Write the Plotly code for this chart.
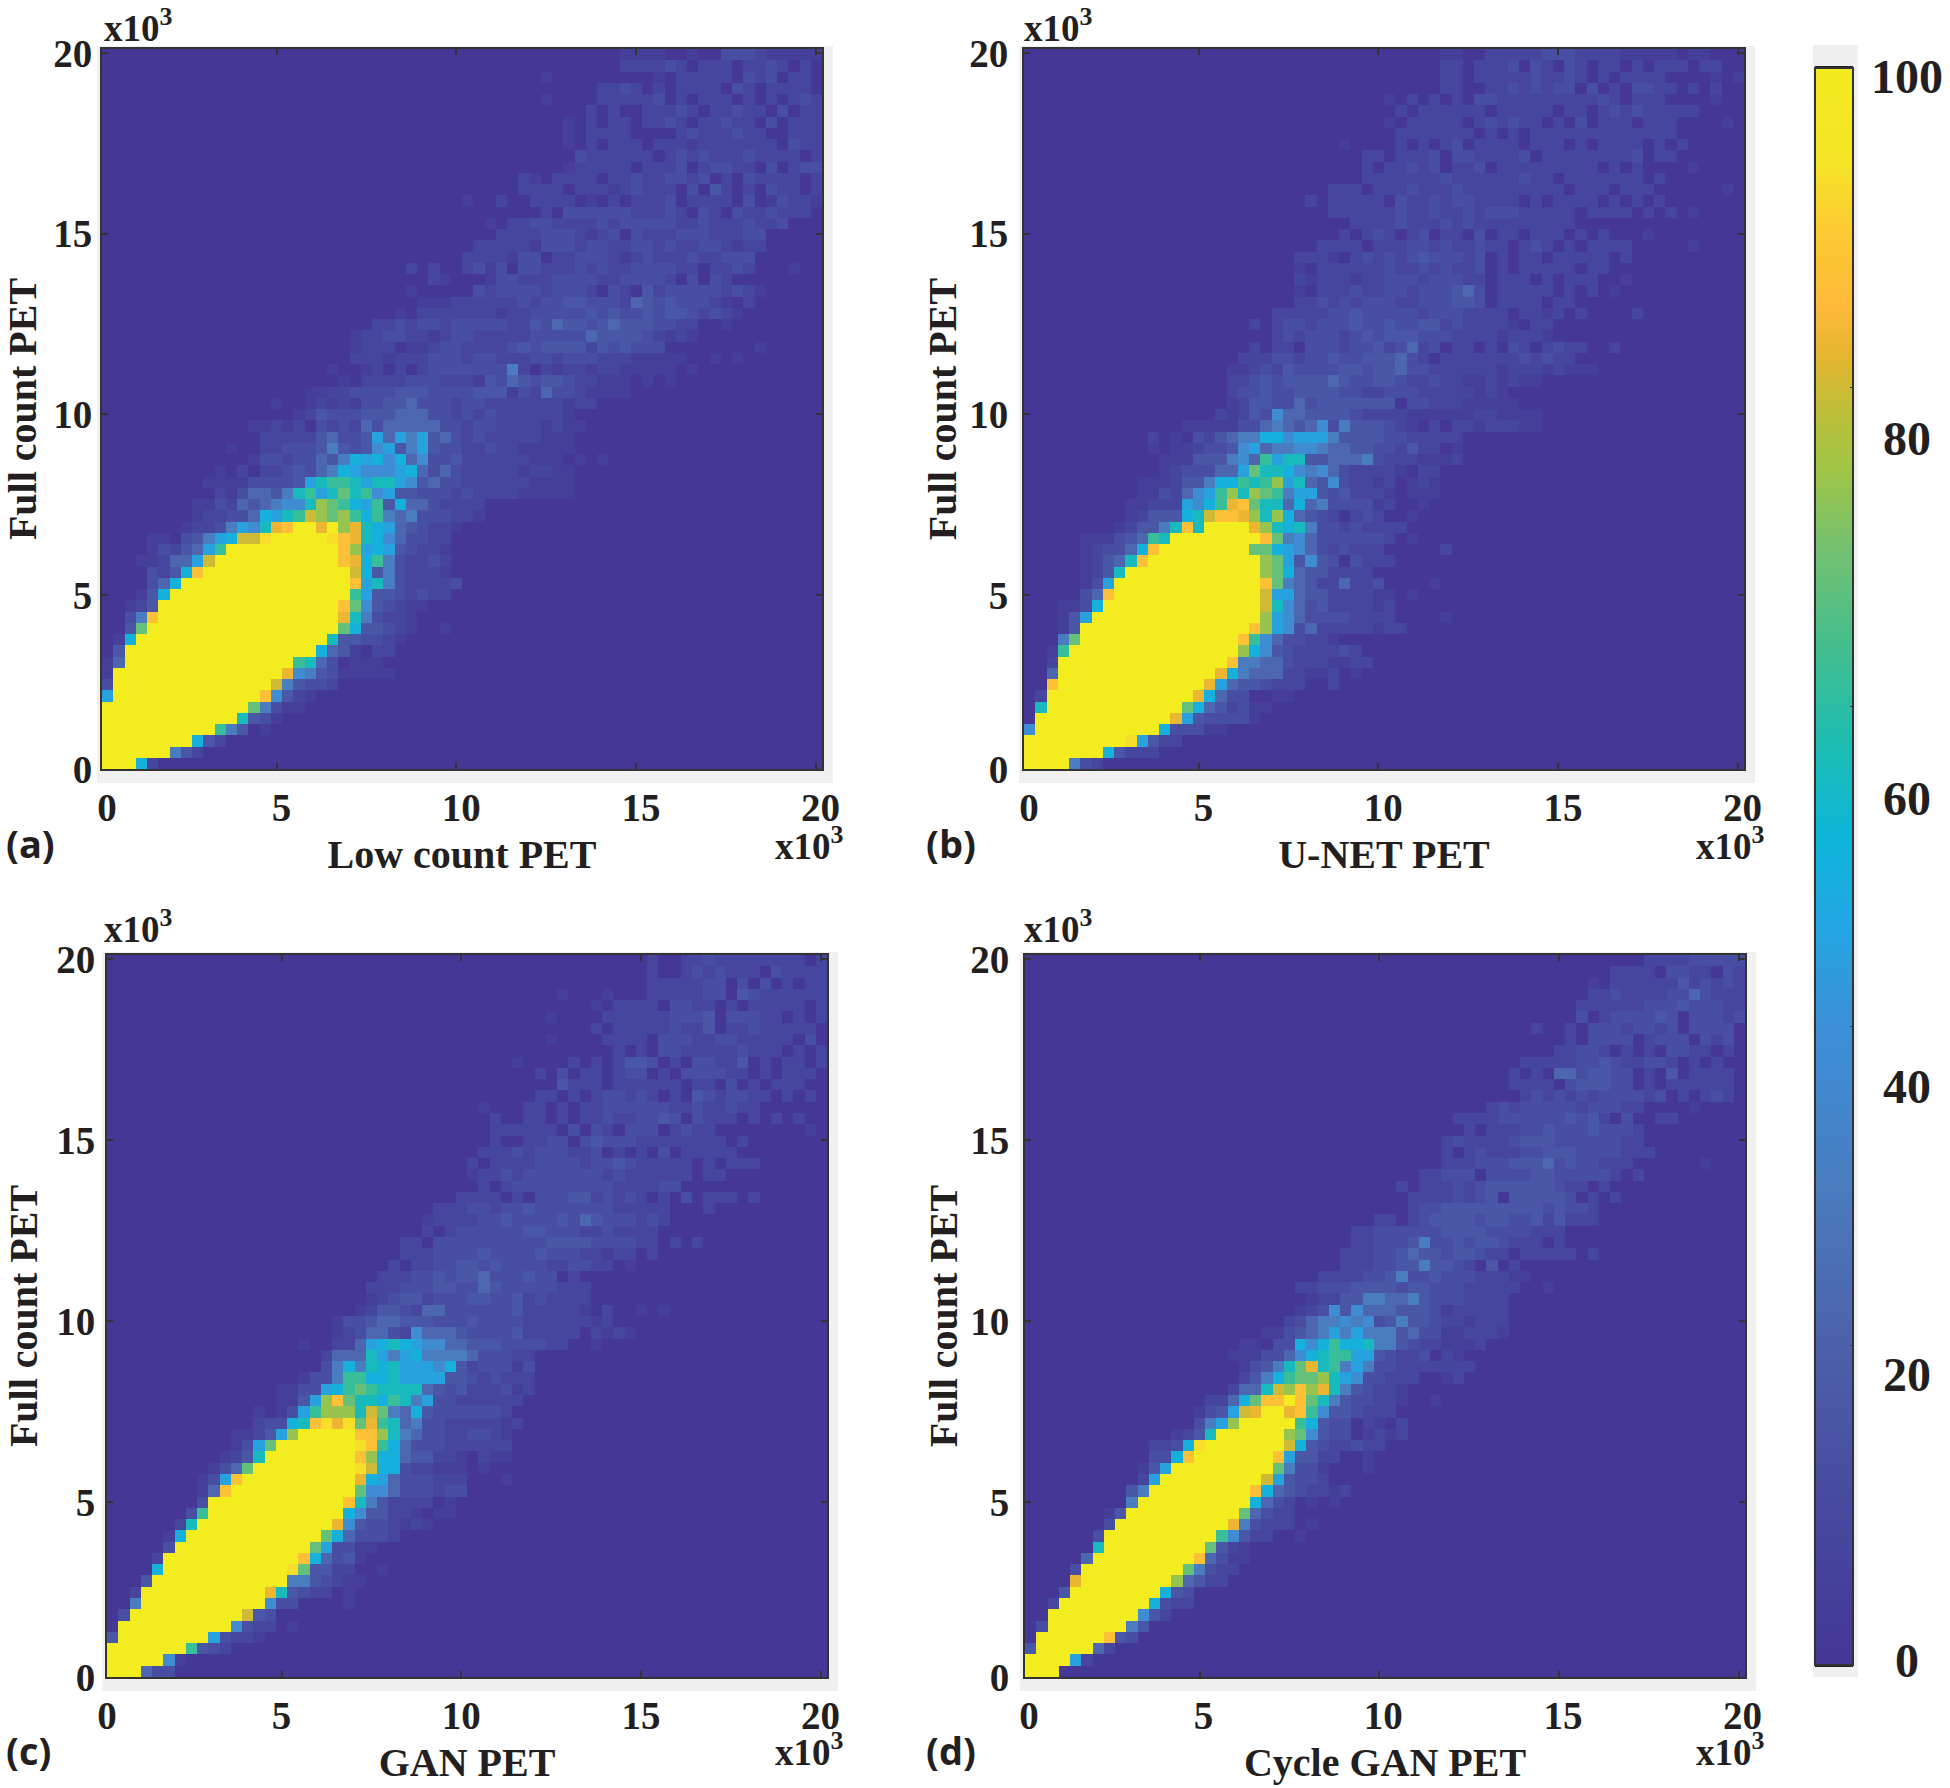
import numpy as np
import plotly.graph_objects as go

# joint histograms, 64 x 64 bins, one character per bin
# rows run bottom to top, each row is (first non empty column, bin codes)
LEVELS = {'.': 0, '1': 4, '2': 8, '3': 12, '4': 16, '5': 22, '6': 30, '7': 38, '8': 45, '9': 50,
          'a': 56, 'b': 62, 'c': 68, 'd': 74, 'e': 80, 'f': 83, 'g': 87, 'h': 93, 'Y': 100}
Y = "Y"

LOW_COUNT = [
    (0, Y*3 + "92"),
    (0, Y*6 + "642"),
    (0, Y*8 + "942"),
    (0, Y*10 + "b64.1"),
    (0, Y*12 + "a431"),
    (0, Y*13 + "c6311"),
    (0, "8" + Y*13 + "g7421"),
    (0, "3" + Y*14 + "e64332"),
    (0, "1" + Y*15 + "f764311111"),
    (0, "15" + Y*15 + "ba53.111"),
    (1, "4" + Y*17 + "9541.22"),
    (1, "19" + Y*17 + "a443321"),
    (2, "4c" + Y*17 + "c944321..1"),
    (2, "36g" + Y*16 + "fa63221"),
    (2, "124" + Y*16 + "gc743211"),
    (3, "149" + Y*16 + "b84432322"),
    (4, "359" + Y*15 + "g8a6322223"),
    (4, "3249g" + Y*13 + "e94632221"),
    (3, "112558e" + Y*11 + "gf9b632232"),
    (4, "132458b" + Y*10 + "gd89843221"),
    (4, "11.34689eeh" + Y*5 + "hgfa9753322"),
    (7, "1223687afgYYfYdfa98543221"),
    (8, "12233598abedcdb9b656333221"),
    (8, "1132545677adcb98b495532222"),
    (10, "2135546ab8acab784433323222211111"),
    (9, "1111333348abba8aa8745332222221111"),
    (10, "1.2.2234356987778953532222212211"),
    (13, "1332335469897957334222222111.1.1"),
    (11, "1..2233346434784684332232211111"),
    (14, "2222245334858684532322222111"),
    (13, "11212.323253555553323322221211"),
    (17, "12433344455533232322222 21".replace(" ", "")),
    (15, "1..12121334453332332222222122"),
    (18, "11223333444333344413253321111"),
    (21, "1.2222333222143543443221 11.1.1".replace(" ", "")),
    (20, "1..12.2.233333336 2.212212211111.1".replace(" ", "")),
    (22, "222122233323322233233322211111..1.1"),
    (22, "1222.11233222234344442434333........1"),
    (22, "1223322123322222333335444432121"),
    (24, "22323323333322435443454443322..1"),
    (26, "1.22222221223333343433434432321"),
    (28, "111222222323344333254343 3321.2".replace(" ", "")),
    (27, "1.....32333323332.32.42333332321"),
    (29, "21...13322233332233332.3.32"),
    (27, "2.2..2313.3322232322333322.2232...1"),
    (32, "22221 33.223332123222322333".replace(" ", "")),
    (33, "22222133323322332322332122"),
    (35, "222233321 23.322233322233".replace(" ", "")),
    (34, "1.223322223233333223 2223223".replace(" ", "")),
    (39, "2.33333322232.32.3223222"),
    (32, "1..2..2222.1.2.2223.2222.3.1322132"),
    (37, "2222.222123222.3.42.2.322.2"),
    (37, "21.2222.223223323.2.32222.2"),
    (41, "122222.2223.23322.3.233"),
    (42, "3222222.232322232222.2"),
    (41, "1.2.222.22212222222.322"),
    (41, "1.2222....23222322..222"),
    (41, "1.2.22.2232.22322.3.222"),
    (43, "2.2..22232.22322.3.22"),
    (39, "1....222223.2.222.2.2.232"),
    (44, "2232.2.2222.32.2222."),
    (39, "1.........1.22222.323.22."),
    (46, "222232.222.2232.2"),
    (46, "1111..1..333211111"),
]

UNET = [
    (0, Y*4 + "632"),
    (0, Y*7 + "94222"),
    (0, Y*9 + "h8422"),
    (0, "7" + Y*11 + "933311"),
    (1, Y*12 + "f8433331"),
    (1, "a" + Y*12 + "c9542311"),
    (1, "2" + Y*13 + "f9533..11"),
    (2, "g" + Y*13 + "f85443222..2"),
    (2, "5" + Y*14 + "f9655522112.1"),
    (2, "2" + Y*15 + "g665532221122"),
    (2, "1b" + Y*15 + "d9743222232"),
    (3, "6c" + Y*14 + "gb7533221"),
    (3, "14" + Y*15 + "gd873522222122"),
    (3, "148" + Y*15 + "d87533332222....1"),
    (3, "1139" + Y*14 + "ea7534222212"),
    (5, "35g" + Y*13 + "e88544222211.1"),
    (5, "138" + Y*13 + "gc654225223....1"),
    (5, "124a" + Y*12 + "dc95442222"),
    (5, "1245ag" + Y*10 + "dc84743.3222"),
    (5, "123359g" + Y*8 + "cc9875323222.....2"),
    (5, "111345ba" + Y*8 + "gc6753333332.1"),
    (8, "12446agaYYYYfda9a633232222"),
    (9, "124449aeggfdad95432.232..1"),
    (9, "11222879bfgcaa5956333312..1"),
    (10, "1132578bdadcb6884342221.111"),
    (10, "111244699babd8a54732212.121"),
    (12, "12333558caa97675322221.22"),
    (12, "111444675b8aa44555632221112"),
    (11, "1.112334785667765544332422.1"),
    (11, "2.1.324566997888644443322222"),
    (14, "111113356545736444321.2.22122211"),
    (17, "21243755444432222111111221111"),
    (18, "124433534444444.3322211111"),
    (18, "2334334444332233322222121"),
    (18, "2234344445433443223221121211"),
    (18, "112324333344344533222222122212111"),
    (19, "22233233433444532.222222232322"),
    (20, "2.22.333233423523.22.2.32.2322..2"),
    (22, "2323332343444333222212221"),
    (20, "2.23323334334334423222 21.22".replace(" ", "")),
    (22, "22222334333332333222 2.2212.2....2".replace(" ", "")),
    (24, "2232323332233344 3.2222.22".replace(" ", "")),
    (24, "1.222322332333453.22222.2.2.1"),
    (24, "21222122333233322.222.2.222..1"),
    (24, "1.222222322323223.2.22222.22"),
    (24, "2221.232323433323.2.22.22222.2"),
    (26, "2222.222332322322.232.2.2222.....1"),
    (28, "2.232.23.22.3.22.222.2.2...1"),
    (29, "22223222323222222222"),
    (27, "2222223223223233322222.2222.2.2.1"),
    (25, "2.22222.32232332222.2.2222.2.2.2"),
    (27, "222.22232223222222222.222.222......1"),
    (30, "22222223222222322.2222222.2."),
    (30, "2.22323.223.222222222.2.2....1"),
    (30, "22.2223.3322223.222222223.22"),
    (28, "1....2.2.23.2222.222.2.2222.2.2"),
    (33, "2222222.2.2.2222222222222."),
    (32, "1.22222.232322.2.3.222.222....1"),
    (33, "2.222222.22222.22.232322222"),
    (32, "1.2.2.2.3322222222232.222....1"),
    (37, "22..22323233.3.2.3322.2.2"),
    (37, "22.2222232232.2.2222....1.1"),
    (37, "22.2223.32.32.22.2.222.22"),
    (37, "11..22222333222211111.11"),
]

GAN = [
    (0, Y*3 + "533"),
    (0, Y*5 + "71"),
    (0, Y*7 + "b432"),
    (0, "4" + Y*8 + "83221"),
    (1, Y*10 + "7322.1"),
    (1, "3" + Y*10 + "e43"),
    (2, "6" + Y*11 + "733....1"),
    (2, "2" + Y*11 + "fa4322.1"),
    (3, "4" + Y*12 + "6643211"),
    (4, "9" + Y*11 + "hc4422..1"),
    (4, "2" + Y*12 + "g95341"),
    (5, "3" + Y*12 + "c83311"),
    (5, "19" + Y*12 + "c953332"),
    (6, "2a" + Y*12 + "f74332121"),
    (7, "3b" + Y*12 + "9744221.11"),
    (8, "3" + Y*12 + "ga642222.1"),
    (8, "15g" + Y*11 + "c775333233"),
    (8, "138g" + Y*10 + "f985333222...1"),
    (9, "135c" + Y*9 + "he99322111.1"),
    (10, "124a" + Y*8 + "gd99544221.211"),
    (11, "138c" + Y*7 + "hgb95333222222"),
    (11, "11248d" + Y*5 + "ggda6533223321"),
    (13, "2339aghfhcfba56332222212"),
    (13, "1.138bdddaec65943333332"),
    (15, "1148dgcaa9ba6833222222"),
    (15, "113389bcbaaaa5434222312"),
    (17, "1336bb99a888844323222"),
    (19, "3696a9a888794233313"),
    (19, "2555a86896666533322"),
    (17, "1..22589a987755444333322..1"),
    (20, "1235532755543333422222.2121"),
    (20, "1334554443334333322222212"),
    (22, "124432553333334222221.2..1.1"),
    (23, "12344233344334232222"),
    (23, "22233344335433333222"),
    (24, "2223343445333433.2."),
    (25, "2.223344343333223322.1"),
    (26, "222333343333433322122.2"),
    (26, "22.33333333334444333322.2.2"),
    (28, "2.2333333443332232222"),
    (28, "1222233433334354333232"),
    (29, "222332334333333322222...2"),
    (31, "2222.2.3334423232.2.3.222.2"),
    (33, "2.2333333333222233"),
    (32, "12232333333323222222.22"),
    (32, "2.222233332334322222.2.222"),
    (33, "22232333223.2.2.3.22222"),
    (34, "2..2233.3433322222222.2"),
    (34, "222222.3.32.333.2322........1"),
    (34, "2..22.2.223223343.3222.2.2.2"),
    (33, "1...22.2.2233333322322322"),
    (38, "22.2.233232.2.4323322.2.2"),
    (40, "4222.222222.22.3.2.222."),
    (38, "2.3.22.233.2.333322.2.222"),
    (36, "1....2.2.2443.2.33224.2.22.2.222"),
    (45, "2.2.33222223222.2.2"),
    (39, "1....2222.333223322222.3."),
    (43, "2.222223224.22322222."),
    (39, "1....2222223334.33322.2.2"),
    (43, "1.2222.3322.2.22222.2"),
    (40, "1...1...2222233.43222222"),
    (48, "2222233.3.3.2.22"),
    (48, "2..2323222.32222"),
    (48, "2..22322222222.2"),
]

CYCLE_GAN = [
    (0, Y*3),
    (0, Y*4 + "82"),
    (0, "4" + Y*5 + "52"),
    (1, Y*6 + "g43"),
    (1, "3" + Y*7 + "64"),
    (2, Y*8 + "742"),
    (2, "2" + Y*8 + "9322"),
    (3, "4" + Y*8 + "943"),
    (4, "f" + Y*8 + "d5422"),
    (4, "3" + Y*9 + "c6322"),
    (5, "5" + Y*9 + "g5311"),
    (6, "a" + Y*9 + "c421"),
    (6, "3" + Y*10 + "b7422..1"),
    (7, "3" + Y*10 + "f63222.1"),
    (7, "14" + Y*10 + "c5322"),
    (9, "6" + Y*10 + "9532.1.1"),
    (9, "46" + Y*9 + "g95432212"),
    (10, "28" + Y*9 + "e84332"),
    (10, "148" + Y*9 + "c6331...1"),
    (11, "339g" + Y*7 + "g84422..1"),
    (11, "2239h" + Y*7 + "e94322322"),
    (13, "124a" + Y*6 + "dc7433.1212"),
    (15, "368d" + Y*5 + "b9433.21.2"),
    (15, "1348efYYfgb7443222"),
    (16, "2259cggYgca6433221..1"),
    (18, "255aedgdfa643221"),
    (19, "2469bccda8733222..12"),
    (19, "1346acfab686332222222"),
    (18, "11133579abb8843223.21"),
    (19, "11.33979b99a6643221112"),
    (21, "1134568686664533112221"),
    (23, "23566767346443221222"),
    (24, "1237475554443122222"),
    (25, "122446655643332222"),
    (24, "22333444434433322222..1"),
    (26, "2222334633433322211"),
    (28, "222334464432.4.2"),
    (28, "222334544344322.22222.2"),
    (29, "2233346334 3443222.2".replace(" ", "")),
    (29, "2233333344443333222"),
    (31, "22.23444434433424222"),
    (34, "23344444444434332"),
    (34, "22223234.444443.2.2"),
    (33, "2.222323444444322.2."),
    (35, "22333.333344333332.2"),
    (37, "22233344453433222......1"),
    (37, "2.23222334443333222"),
    (37, "232222344433333322"),
    (39, "2.22233433343332."),
    (38, "22223333334342.3..22"),
    (41, "23233333233322....1"),
    (44, "2323232333323.2.232"),
    (43, "2222.344433.2.222222"),
    (43, "2.2.5534433.2.4.2222"),
    (44, "22222334322332.2.2."),
    (47, "22332.2.2.3322.2"),
    (48, "2.3333.2333.323"),
    (45, "2..2.33323323.3333."),
    (49, "3.2333343.33323"),
    (49, "222222333433322"),
    (50, "22322223353222"),
    (50, "1.222222423232"),
    (52, "2222.3322.32"),
    (55, "222233333"),
]

X_TITLES = ["Low count PET", "U-NET PET", "GAN PET", "Cycle GAN PET"]
PANEL_TAGS = ["(a)", "(b)", "(c)", "(d)"]
TICKS = [5, 10, 15, 20]
BAR_TICKS = [0, 20, 40, 60, 80, 100]

COLORS = [(0, "#443795"), (0.10, "#474aa0"), (0.20, "#4c60ab"), (0.30, "#4a7cc0"), (0.40, "#3c90d8"),
          (0.47, "#20a8e2"), (0.52, "#0db5d8"), (0.58, "#1fbdb0"), (0.64, "#45be8c"), (0.70, "#75c170"),
          (0.75, "#a0c545"), (0.79, "#c3bd37"), (0.82, "#e5b52f"), (0.85, "#feb939"), (0.90, "#fccb33"),
          (0.94, "#f5e426"), (1, "#f3ec1f")]

W, H = 1950, 1788
SERIF = "Liberation Serif"
INK = "#231f20"
# plot boxes in page pixels: left, right, top, bottom
BOXES = [(102, 822, 49, 769), (1024, 1744, 49, 769), (107, 827, 955, 1677), (1025, 1745, 955, 1677)]
X_MIN, X_MAX = 0.14, 20.18
Y_MIN, Y_MAX = 0.18, 20.11
BINS = 64
# the labels were placed by hand in the picture, so each panel gets its own nudges
X_LABEL_SHIFT = [5, 5, 0, 4]
Y_LABEL_GAP = [0, 6, 2, 6]
Y_TITLE_GAP = [6, 0, 6, 0]


def to_grid(rows):
    grid = np.zeros((BINS, BINS))
    for r, (start, codes) in enumerate(rows[:BINS]):
        for i, ch in enumerate(codes):
            if start + i < BINS:
                grid[r, start + i] = LEVELS[ch]
    return grid


def fx(px):
    return px / W


def fy(py):
    return 1 - py / H


fig = go.Figure()
dx = (X_MAX - X_MIN) / BINS
dy = (Y_MAX - Y_MIN) / BINS
layout = {}
shapes = []
notes = []
tick_font = dict(family=SERIF, size=39, color=INK, weight=700)
title_font = dict(family=SERIF, size=40, color=INK, weight=700)

for i, rows in enumerate([LOW_COUNT, UNET, GAN, CYCLE_GAN]):
    n = i + 1
    left, right, top, bottom = BOXES[i]
    fig.add_trace(go.Heatmap(
        z=to_grid(rows), x0=X_MIN + dx / 2, dx=dx, y0=Y_MIN + dy / 2, dy=dy,
        coloraxis="coloraxis", xaxis=f"x{n}", yaxis=f"y{n}",
    ))
    common = dict(showgrid=False, zeroline=False, showline=True, linecolor="#333333", linewidth=2,
                  mirror="ticks", ticks="inside", ticklen=6, tickwidth=2, tickcolor="#333333",
                  tickfont=tick_font)
    layout[f"xaxis{n}"] = dict(
        common, domain=[fx(left), fx(right)], anchor=f"y{n}", range=[X_MIN, X_MAX],
        tickmode="array", tickvals=[X_MIN] + TICKS, ticktext=["0"] + [str(t) for t in TICKS],
        ticklabelstandoff=3, ticklabelshift=X_LABEL_SHIFT[i],
        title=dict(text=X_TITLES[i], font=title_font, standoff=12),
    )
    layout[f"yaxis{n}"] = dict(
        common, domain=[fy(bottom), fy(top)], anchor=f"x{n}", range=[Y_MIN, Y_MAX],
        tickmode="array", tickvals=[Y_MIN] + TICKS, ticktext=["0"] + [str(t) for t in TICKS],
        ticklabelstandoff=Y_LABEL_GAP[i],
        title=dict(text="Full count PET", font=title_font, standoff=Y_TITLE_GAP[i]),
    )
    # pale grey frame behind each plot box
    shapes.append(dict(type="rect", xref="paper", yref="paper", layer="below", line_width=0,
                       fillcolor="#f0f0f0", x0=fx(left - 5), x1=fx(right + 11), y0=fy(bottom + 14), y1=fy(top - 3)))
    tag_x = 4 if i % 2 == 0 else 924
    tag_y = 843 if i < 2 else 1750
    notes.append(dict(text=PANEL_TAGS[i], x=fx(tag_x), y=fy(tag_y), xanchor="left", yanchor="middle",
                      font=dict(family="Open Sans", size=38, color=INK, weight=700)))
    scale_x = 102 if i % 2 == 0 else 1022
    scale_y = 26 if i < 2 else 926
    notes.append(dict(text="x10<sup>3</sup>", x=fx(scale_x), y=fy(scale_y), xanchor="left", yanchor="middle",
                      font=dict(family=SERIF, size=37, color=INK, weight=700)))
    end_x = 773 if i % 2 == 0 else 1694
    end_y = 843 if i < 2 else 1749
    notes.append(dict(text="x10<sup>3</sup>", x=fx(end_x), y=fy(end_y), xanchor="left", yanchor="middle",
                      font=dict(family=SERIF, size=37, color=INK, weight=700)))

# colour bar labels sit apart from its ticks in the picture
BAR_LABEL_Y = [1660, 1374, 1086, 798, 438, 77]
for val, py in zip(BAR_TICKS, BAR_LABEL_Y):
    notes.append(dict(text=str(val), x=fx(1907), y=fy(py), xanchor="center", yanchor="middle",
                      font=dict(family=SERIF, size=48, color=INK, weight=700)))

shapes.append(dict(type="rect", xref="paper", yref="paper", layer="below", line_width=0, fillcolor="#f0f0f0",
                   x0=fx(1813), x1=fx(1858), y0=fy(1677), y1=fy(45)))
for py in [68, 1665]:
    shapes.append(dict(type="line", xref="paper", yref="paper", line=dict(color="#222222", width=4),
                       x0=fx(1815), x1=fx(1853), y0=fy(py), y1=fy(py)))

for note in notes:
    note.update(xref="paper", yref="paper", showarrow=False)

fig.update_layout(
    width=W, height=H, autosize=False, margin=dict(l=0, r=0, t=0, b=0, autoexpand=False),
    paper_bgcolor="white", plot_bgcolor="white",
    shapes=shapes, annotations=notes,
    coloraxis=dict(
        cmin=0, cmax=100, colorscale=COLORS,
        colorbar=dict(
            x=fx(1815), xanchor="left", xpad=0, ypad=0, thickness=38, thicknessmode="pixels",
            y=fy(1665), yanchor="bottom", len=(1665 - 68) / H, lenmode="fraction",
            outlinecolor="#333333", outlinewidth=2,
            tickmode="array", tickvals=BAR_TICKS, ticks="inside", ticklen=4, tickcolor="#333333",
            showticklabels=False,
        ),
    ),
    **layout,
)

fig.write_html("out.html", config={"displayModeBar": False}, post_script="document.body.style.margin='0';")
